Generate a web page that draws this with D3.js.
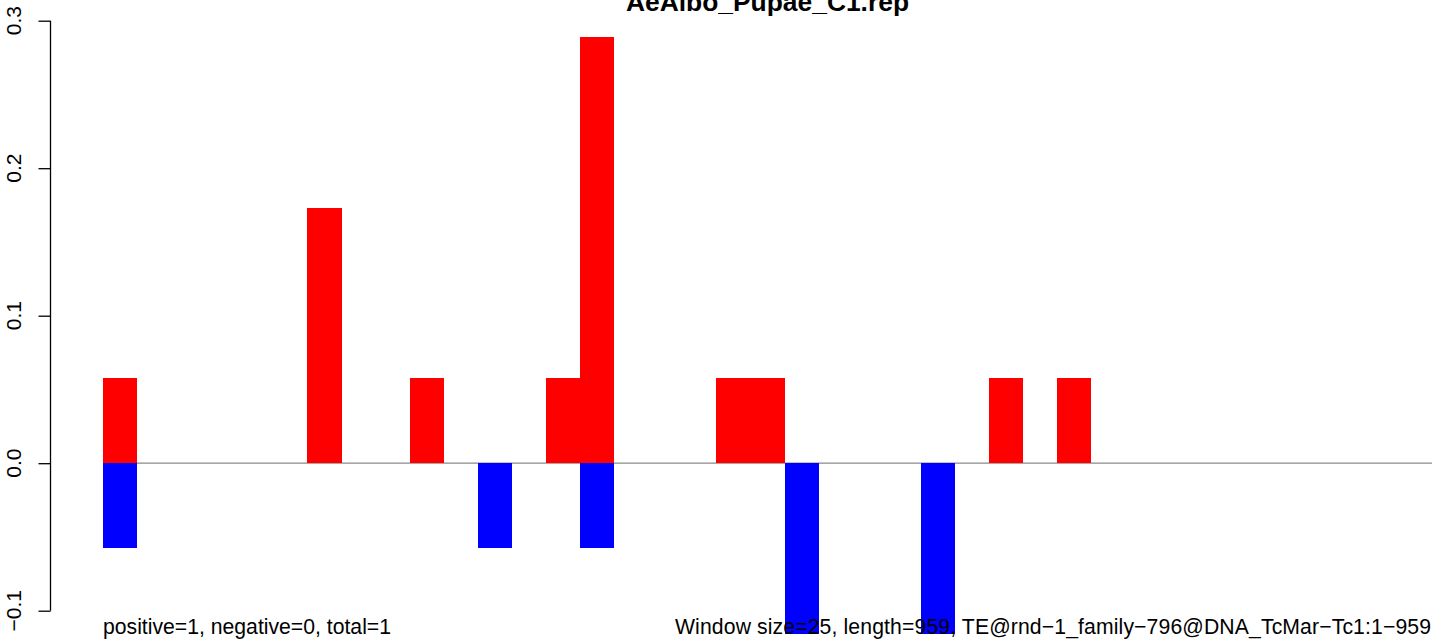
<!DOCTYPE html>
<html>
<head>
<meta charset="utf-8">
<script src="https://cdn.jsdelivr.net/npm/d3@7"></script>
<style>
  html, body { margin: 0; padding: 0; background: #fff; }
  svg { display: block; }
  text { font-family: "Liberation Sans", Arial, Helvetica, sans-serif; }
</style>
</head>
<body>
<svg id="chart" width="1444" height="641"></svg>
<script>
// ---- data ----
const title = "AeAlbo_Pupae_C1.rep";
const windows = d3.range(39); // window index, size 25, length 959
const positiveValues = [
  0.0577, 0, 0, 0, 0, 0, 0.1732, 0, 0, 0.0577,
  0, 0, 0, 0.0577, 0.2887, 0, 0, 0, 0.0577, 0.0577,
  0, 0, 0, 0, 0, 0, 0.0577, 0, 0.0577, 0,
  0, 0, 0, 0, 0, 0, 0, 0, 0
];
const negativeValues = [
  -0.0577, 0, 0, 0, 0, 0, 0, 0, 0, 0,
  0, -0.0577, 0, 0, -0.0577, 0, 0, 0, 0, 0,
  -0.1155, 0, 0, 0, -0.1155, 0, 0, 0, 0, 0,
  0, 0, 0, 0, 0, 0, 0, 0, 0
];
const yTicks = [-0.1, 0.0, 0.1, 0.2, 0.3];
const yTickLabels = ["\u22120.1", "0.0", "0.1", "0.2", "0.3"];
const leftNote = "positive=1, negative=0, total=1";
const rightNote = "Window size=25, length=959, TE@rnd\u22121_family\u2212796@DNA_TcMar\u2212Tc1:1\u2212959";

// ---- layout ----
const svg = d3.select("#chart");
const plotLeft = 103, plotRight = 1432;
const x = d3.scaleBand().domain(windows).range([plotLeft, plotRight]).padding(0);
const y = d3.scaleLinear().domain([-0.1, 0.3]).range([610.7, 20.7]);

// baseline
svg.append("line")
  .attr("x1", plotLeft).attr("x2", plotRight)
  .attr("y1", y(0)).attr("y2", y(0))
  .attr("stroke", "#8a8a8a").attr("stroke-width", 1.2);

// positive bars
svg.append("g").selectAll("rect")
  .data(windows.filter(i => positiveValues[i] !== 0))
  .join("rect")
  .attr("x", i => x(i))
  .attr("width", x.bandwidth())
  .attr("y", i => y(positiveValues[i]))
  .attr("height", i => y(0) - y(positiveValues[i]))
  .attr("fill", "#ff0000")
  .attr("shape-rendering", "crispEdges");

// negative bars
svg.append("g").selectAll("rect")
  .data(windows.filter(i => negativeValues[i] !== 0))
  .join("rect")
  .attr("x", i => x(i))
  .attr("width", x.bandwidth())
  .attr("y", y(0))
  .attr("height", i => y(negativeValues[i]) - y(0))
  .attr("fill", "#0000ff")
  .attr("shape-rendering", "crispEdges");

// y axis
const axisG = svg.append("g").attr("transform", "translate(50.5,0)");
axisG.call(d3.axisLeft(y).tickValues(yTicks).tickSize(12).tickFormat(""));
axisG.select(".domain").attr("d", `M0,${y(-0.1)}V${y(0.3)}`).attr("stroke", "#000").attr("stroke-width", 1.3);
axisG.selectAll(".tick line").attr("stroke", "#000").attr("stroke-width", 1.3);

svg.append("g").selectAll("text")
  .data(yTicks)
  .join("text")
  .attr("transform", (d) => `translate(21,${y(d)}) rotate(-90)`)
  .attr("text-anchor", "middle")
  .attr("font-size", 21)
  .attr("fill", "#000")
  .text((d, i) => yTickLabels[i]);

// title
svg.append("text")
  .attr("x", (plotLeft + plotRight) / 2)
  .attr("y", 11)
  .attr("text-anchor", "middle")
  .attr("font-size", 26.4)
  .attr("font-weight", "bold")
  .attr("fill", "#000")
  .text(title);

// bottom notes
svg.append("text")
  .attr("x", plotLeft).attr("y", 634)
  .attr("font-size", 21.2).attr("fill", "#000")
  .attr("textLength", 288).attr("lengthAdjust", "spacing")
  .text(leftNote);
svg.append("text")
  .attr("x", 1431).attr("y", 634)
  .attr("text-anchor", "end")
  .attr("font-size", 21.2).attr("fill", "#000")
  .attr("textLength", 756).attr("lengthAdjust", "spacing")
  .text(rightNote);
</script>
</body>
</html>
